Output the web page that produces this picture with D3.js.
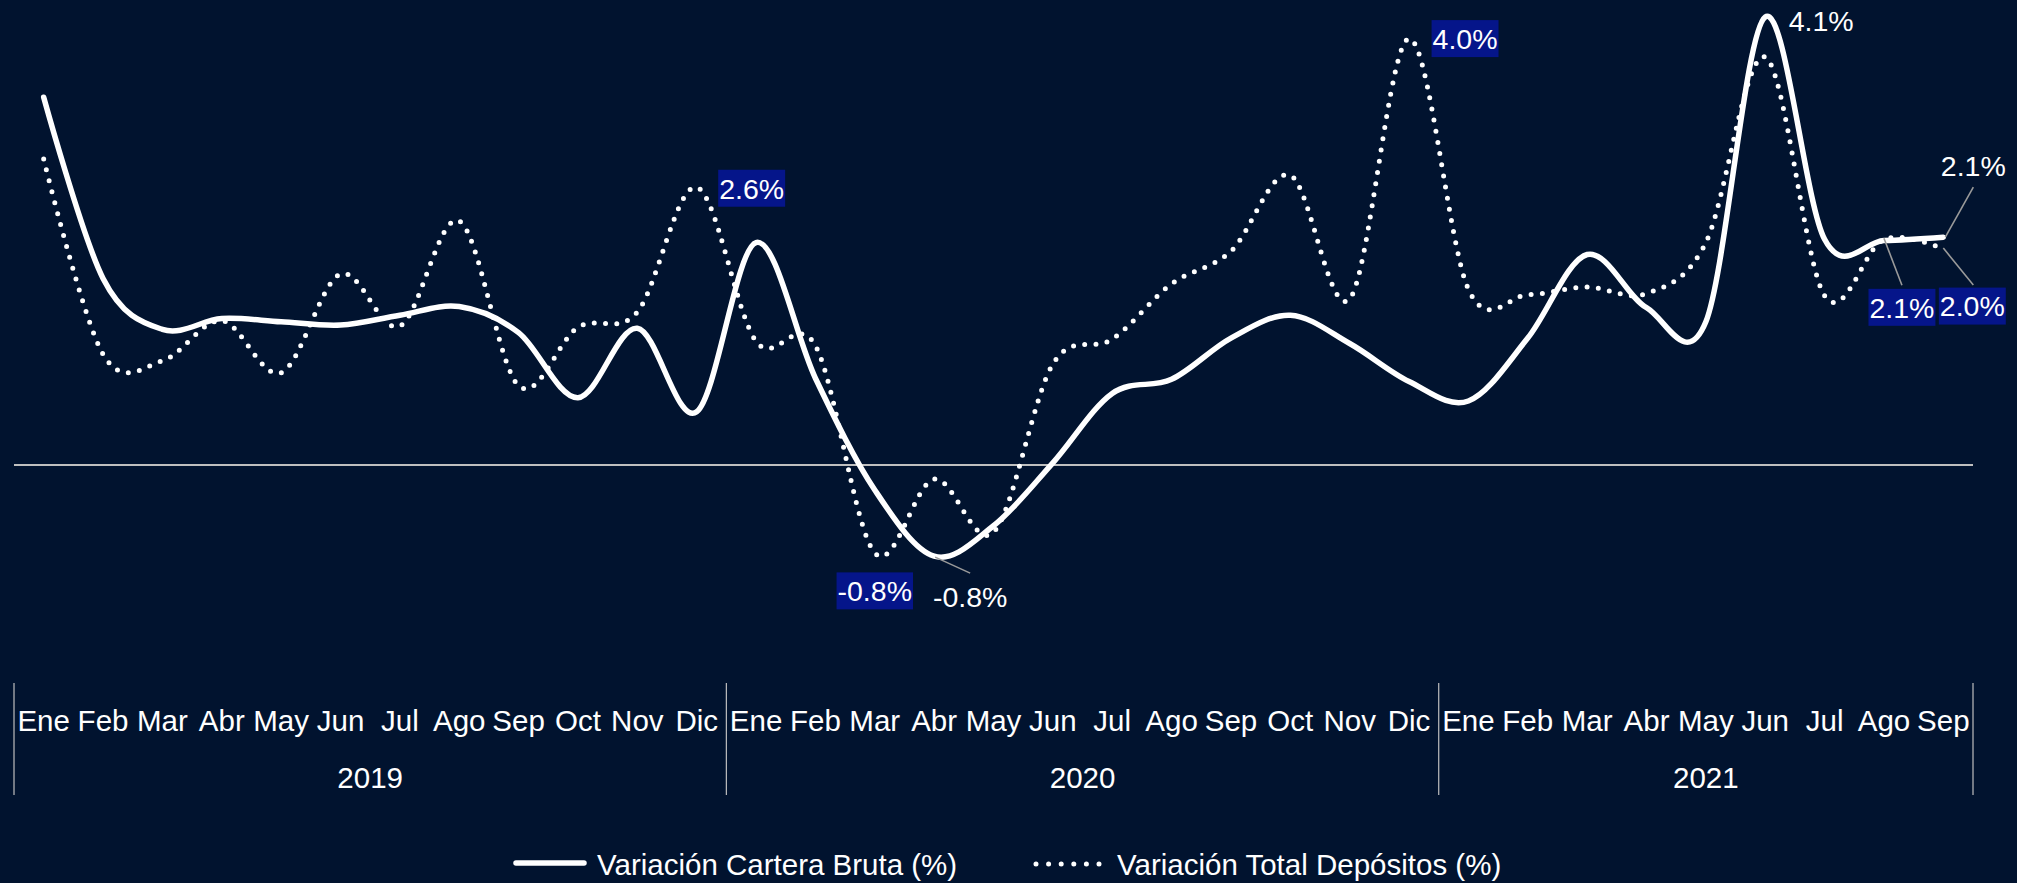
<!DOCTYPE html>
<html><head><meta charset="utf-8">
<script src="https://cdn.jsdelivr.net/npm/d3@7"></script>
<style>html,body{margin:0;padding:0;background:#001430;} svg{display:block}</style>
</head><body>
<svg id="c" width="2017" height="883"></svg>
<script>
// ---------- data ----------
const months = ["Ene","Feb","Mar","Abr","May","Jun","Jul","Ago","Sep","Oct","Nov","Dic",
                "Ene","Feb","Mar","Abr","May","Jun","Jul","Ago","Sep","Oct","Nov","Dic",
                "Ene","Feb","Mar","Abr","May","Jun","Jul","Ago","Sep"];
const years = ["2019","2020","2021"];
const monthsPerYear = [12, 12, 9];
const cartera = [3.39, 1.72, 1.25, 1.35, 1.32, 1.29, 1.38, 1.46, 1.22, 0.62, 1.26, 0.49,
                 2.05, 0.80, -0.23, -0.84, -0.56, 0.02, 0.66, 0.79, 1.17, 1.38, 1.12, 0.77,
                 0.59, 1.17, 1.94, 1.45, 1.32, 4.13, 2.08, 2.07, 2.10];
const depositos = [2.82, 1.02, 0.96, 1.33, 0.85, 1.76, 1.28, 2.25, 0.73, 1.27, 1.41, 2.56,
                   1.14, 1.10, -0.81, -0.13, -0.62, 0.93, 1.16, 1.67, 1.97, 2.67, 1.53, 3.93,
                   1.62, 1.57, 1.64, 1.58, 2.05, 3.76, 1.56, 2.08, 1.99];
const seriesNames = ["Variación Cartera Bruta (%)", "Variación Total Depósitos (%)"];
const carteraLabelIdx = [15, 29, 32];
const carteraLabelText = ["-0.8%", "4.1%", "2.1%"];
const depositosLabelIdx = [11, 14, 23, 31, 32];
const depositosLabelText = ["2.6%", "-0.8%", "4.0%", "2.1%", "2.0%"];

// ---------- layout ----------
const W = 2017, H = 883;
const BG = "#01132f", BOX = "#05158a", GRID = "#bfbfbf", LEAD = "#9a9a9a";
const FONT = "'Liberation Sans', Arial, Helvetica, sans-serif";
const FS = 29.5, LFS = 28.5;
const svg = d3.select("#c");
svg.append("rect").attr("width", W).attr("height", H).attr("fill", BG);

const idx = d3.range(months.length);
const x = d3.scaleBand().domain(idx).range([14, 1973]).paddingInner(0).paddingOuter(0);
const cx = i => x(i) + x.bandwidth() / 2;
const y = d3.scaleLinear().domain([-1, 4.2]).range([465 + 108.5, 465 - 108.5 * 4.2]);

// zero line
svg.append("line").attr("x1", x.range()[0]).attr("x2", x.range()[1])
  .attr("y1", y(0)).attr("y2", y(0)).attr("stroke", GRID).attr("stroke-width", 2);

// category axis (months + years)
const axisG = svg.append("g");
const mAxis = d3.axisBottom(x).tickSize(0).tickFormat(i => months[i]);
const mg = axisG.append("g").attr("transform", "translate(0,704)").call(mAxis);
mg.select(".domain").remove();
mg.selectAll("text").attr("fill", "#fff").attr("font-size", FS).attr("font-family", FONT).attr("dy", 0).attr("y", 27);

let start = 0;
const bounds = [0];
monthsPerYear.forEach(n => { start += n; bounds.push(start); });
bounds.forEach(b => {
  const bx = b < months.length ? x(b) : x.range()[1];
  axisG.append("line").attr("x1", bx).attr("x2", bx).attr("y1", 683).attr("y2", 795)
    .attr("stroke", GRID).attr("stroke-width", 1.2);
});
years.forEach((yr, k) => {
  const a = x(bounds[k]);
  const b = bounds[k + 1] < months.length ? x(bounds[k + 1]) : x.range()[1];
  axisG.append("text").attr("x", (a + b) / 2).attr("y", 788).attr("text-anchor", "middle")
    .attr("fill", "#fff").attr("font-size", FS).attr("font-family", FONT).text(yr);
});

// lines
const line = d3.line().x((d, i) => cx(i)).y(d => y(d)).curve(d3.curveCardinal.tension(0));
svg.append("path").datum(depositos).attr("d", line).attr("fill", "none")
  .attr("stroke", "#fff").attr("stroke-width", 5).attr("stroke-linecap", "round")
  .attr("stroke-dasharray", "0 11.3");
svg.append("path").datum(cartera).attr("d", line).attr("fill", "none")
  .attr("stroke", "#fff").attr("stroke-width", 5.5).attr("stroke-linecap", "round");

// data labels (offsets are layout)
const layout = {
  "c15": {dx: 36, dy: 41, lead: [1, 1, 36, 17]},
  "c29": {dx: 56, dy: 4},
  "c32": {dx: 30, dy: -71, lead: [2, 0, 30, -50]},
  "d11": {dx: 55, dy: 1},
  "d14": {dx: 0, dy: 38},
  "d23": {dx: 56, dy: 0},
  "d31": {dx: 18, dy: 68, lead: [0, -1, 18, 46]},
  "d32": {dx: 29, dy: 57, lead: [0, -1, 30, 36]}
};
function addLabel(key, px, py, text, boxed) {
  const L = layout[key];
  if (L.lead) {
    svg.append("line").attr("x1", px + L.lead[0]).attr("y1", py + L.lead[1])
      .attr("x2", px + L.lead[2]).attr("y2", py + L.lead[3])
      .attr("stroke", LEAD).attr("stroke-width", 1.6);
  }
  const g = svg.append("g");
  const t = g.append("text").attr("x", px + L.dx).attr("y", py + L.dy).attr("dy", "0.36em")
    .attr("text-anchor", "middle").attr("fill", "#fff").attr("font-size", LFS)
    .attr("font-family", FONT).text(text);
  if (boxed) {
    const bb = t.node().getBBox();
    g.insert("rect", "text").attr("x", bb.x - 1).attr("y", py + L.dy - 18.5)
      .attr("width", bb.width + 2).attr("height", 37).attr("fill", BOX);
  }
}
carteraLabelIdx.forEach((i, k) => addLabel("c" + i, cx(i), y(cartera[i]), carteraLabelText[k], false));
depositosLabelIdx.forEach((i, k) => addLabel("d" + i, cx(i), y(depositos[i]), depositosLabelText[k], true));

// legend
const lg = svg.append("g");
lg.append("line").attr("x1", 516).attr("x2", 584).attr("y1", 863).attr("y2", 863)
  .attr("stroke", "#fff").attr("stroke-width", 5.5).attr("stroke-linecap", "round");
lg.append("text").attr("x", 597).attr("y", 875).attr("fill", "#fff").attr("font-size", FS)
  .attr("font-family", FONT).text(seriesNames[0]);
lg.append("line").attr("x1", 1036).attr("x2", 1100).attr("y1", 864).attr("y2", 864)
  .attr("stroke", "#fff").attr("stroke-width", 5).attr("stroke-linecap", "round")
  .attr("stroke-dasharray", "0 12.6");
lg.append("text").attr("x", 1117).attr("y", 875).attr("fill", "#fff").attr("font-size", FS)
  .attr("font-family", FONT).text(seriesNames[1]);
</script>
</body></html>
